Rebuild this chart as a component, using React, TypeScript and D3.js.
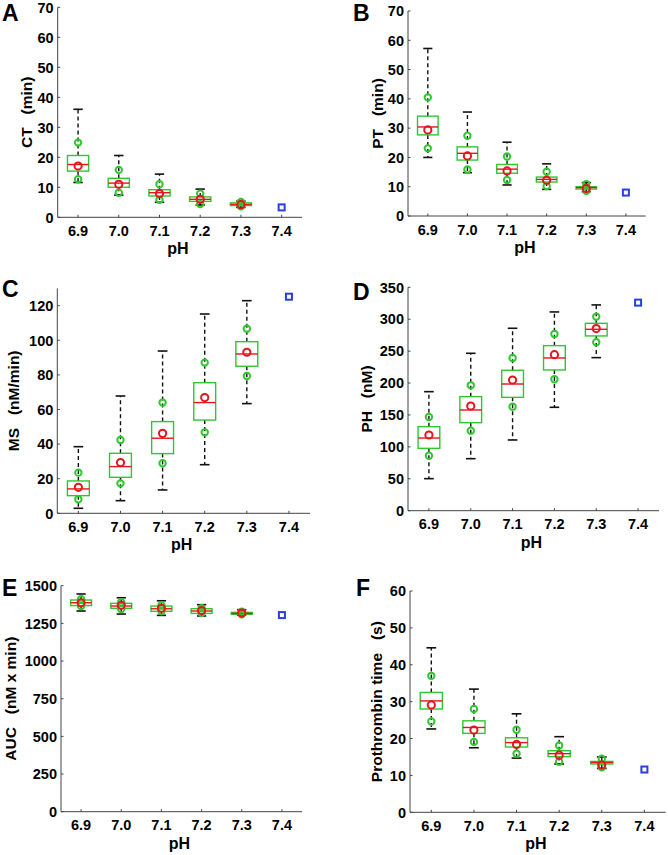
import React from "react";
import * as d3 from "d3";

const categories = ["6.9", "7.0", "7.1", "7.2", "7.3", "7.4"];

// Panel A: CT (min)
const ctWhiskerLow = [11.6, 7.4, 5.0, 4.1, 3.3];
const ctQ1 = [15.4, 10.0, 7.1, 5.3, 3.9];
const ctMedian = [17.6, 11.4, 8.2, 6.0, 4.3];
const ctQ3 = [20.6, 13.0, 9.2, 6.8, 4.8];
const ctWhiskerHigh = [36.0, 20.6, 14.4, 9.4, 5.4];
const ctMean = [17.1, 11.0, 7.9, 6.0, 4.2];
const ctLowPt = [12.7, 8.2, 5.8, 4.4, 3.7];
const ctHighPt = [24.9, 15.8, 11.0, 7.9, 5.1];
const ctRef = 3.3;

// Panel B: PT (min)
const ptWhiskerLow = [20.0, 14.8, 10.6, 9.1, 8.3];
const ptQ1 = [27.7, 19.1, 14.6, 11.6, 9.2];
const ptMedian = [30.4, 21.4, 16.0, 12.5, 9.7];
const ptQ3 = [34.1, 23.6, 17.6, 13.3, 10.0];
const ptWhiskerHigh = [57.2, 35.5, 25.2, 17.8, 11.4];
const ptMean = [29.4, 20.5, 15.4, 12.2, 9.4];
const ptLowPt = [23.1, 15.9, 12.3, 10.2, 8.6];
const ptHighPt = [40.5, 27.4, 20.3, 15.1, 10.9];
const ptRef = 8.0;

// Panel C: MS (nM/min)
const msWhiskerLow = [2.9, 7.3, 13.5, 28.1, 63.4];
const msQ1 = [10.2, 20.8, 34.5, 53.9, 85.0];
const msMedian = [14.1, 27.0, 43.4, 64.0, 92.1];
const msQ3 = [18.7, 34.7, 53.0, 75.5, 99.2];
const msWhiskerHigh = [38.5, 67.8, 93.8, 115.2, 122.9];
const msMean = [15.0, 29.3, 46.2, 66.9, 93.1];
const msLowPt = [8.1, 17.3, 28.9, 46.8, 79.4];
const msHighPt = [23.5, 42.4, 64.0, 87.1, 106.7];
const msRef = 125.2;

// Panel D: PH (nM)
const phWhiskerLow = [50.2, 81.5, 110.8, 162.0, 239.8];
const phQ1 = [97.7, 137.9, 177.6, 220.5, 273.8];
const phMedian = [113.9, 157.8, 198.5, 239.3, 284.2];
const phQ3 = [131.7, 178.7, 220.0, 258.6, 293.6];
const phWhiskerHigh = [186.5, 246.6, 285.8, 311.4, 322.4];
const phMean = [118.6, 164.0, 204.8, 244.5, 285.3];
const phLowPt = [86.2, 125.4, 163.0, 205.9, 263.8];
const phHighPt = [146.8, 196.4, 239.3, 276.9, 304.1];
const phRef = 326;

// Panel E: AUC (nM x min)
const aucWhiskerLow = [1332, 1312, 1303, 1299, 1305];
const aucQ1 = [1368, 1350, 1330, 1316, 1310];
const aucMedian = [1387, 1365, 1347, 1332, 1316];
const aucQ3 = [1405, 1383, 1365, 1347, 1323];
const aucWhiskerHigh = [1445, 1420, 1400, 1374, 1341];
const aucMean = [1387, 1370, 1350, 1335, 1318];
const aucLowPt = [1365, 1345, 1330, 1318, 1310];
const aucHighPt = [1410, 1390, 1370, 1350, 1328];
const aucRef = 1305;

// Panel F: Prothrombin time (s)
const prWhiskerLow = [22.6, 17.5, 14.7, 13.1, 11.9];
const prQ1 = [28.0, 21.4, 17.7, 15.1, 13.1];
const prMedian = [30.2, 23.0, 18.9, 15.9, 13.5];
const prQ3 = [32.5, 24.8, 20.2, 16.7, 13.8];
const prWhiskerHigh = [44.6, 33.4, 26.7, 20.5, 15.0];
const prMean = [29.1, 22.3, 18.4, 15.5, 12.8];
const prLowPt = [24.6, 19.1, 15.9, 13.7, 12.2];
const prHighPt = [37.0, 28.0, 22.4, 18.1, 14.5];
const prRef = 11.6;

const yTicksA = [0, 10, 20, 30, 40, 50, 60, 70];
const yTicksC = [0, 20, 40, 60, 80, 100, 120];
const yTicksD = [0, 50, 100, 150, 200, 250, 300, 350];
const yTicksE = [0, 250, 500, 750, 1000, 1250, 1500];
const yTicksF = [0, 10, 20, 30, 40, 50, 60];

type Panel = {
  letter: string;
  ylabel: string;
  ymax: number;
  ticks: number[];
  rect: [number, number, number, number];
  letterPos: [number, number];
  ylabelX: number;
  wl: number[];
  q1: number[];
  med: number[];
  q3: number[];
  wh: number[];
  mean: number[];
  lo: number[];
  hi: number[];
  ref: number;
};

const panels: Panel[] = [
  { letter: "A", ylabel: "CT   (min)", ymax: 70, ticks: yTicksA, rect: [57.7, 7.3, 302, 217.3], letterPos: [2, 21], ylabelX: 26,
    wl: ctWhiskerLow, q1: ctQ1, med: ctMedian, q3: ctQ3, wh: ctWhiskerHigh, mean: ctMean, lo: ctLowPt, hi: ctHighPt, ref: ctRef },
  { letter: "B", ylabel: "PT   (min)", ymax: 70, ticks: yTicksA, rect: [408, 11, 645.7, 216], letterPos: [353, 21], ylabelX: 377,
    wl: ptWhiskerLow, q1: ptQ1, med: ptMedian, q3: ptQ3, wh: ptWhiskerHigh, mean: ptMean, lo: ptLowPt, hi: ptHighPt, ref: ptRef },
  { letter: "C", ylabel: "MS   (nM/min)", ymax: 130, ticks: yTicksC, rect: [57.3, 288.4, 310, 513.3], letterPos: [2, 297], ylabelX: 13.5,
    wl: msWhiskerLow, q1: msQ1, med: msMedian, q3: msQ3, wh: msWhiskerHigh, mean: msMean, lo: msLowPt, hi: msHighPt, ref: msRef },
  { letter: "D", ylabel: "PH   (nM)", ymax: 350, ticks: yTicksD, rect: [408, 287.3, 659, 510.7], letterPos: [353, 300], ylabelX: 366,
    wl: phWhiskerLow, q1: phQ1, med: phMedian, q3: phQ3, wh: phWhiskerHigh, mean: phMean, lo: phLowPt, hi: phHighPt, ref: phRef },
  { letter: "E", ylabel: "AUC   (nM x min)", ymax: 1500, ticks: yTicksE, rect: [61, 585.7, 302, 811.7], letterPos: [2, 596], ylabelX: 10.5,
    wl: aucWhiskerLow, q1: aucQ1, med: aucMedian, q3: aucQ3, wh: aucWhiskerHigh, mean: aucMean, lo: aucLowPt, hi: aucHighPt, ref: aucRef },
  { letter: "F", ylabel: "Prothrombin time   (s)", ymax: 60, ticks: yTicksF, rect: [410, 591, 665.7, 812.3], letterPos: [356, 596], ylabelX: 376,
    wl: prWhiskerLow, q1: prQ1, med: prMedian, q3: prQ3, wh: prWhiskerHigh, mean: prMean, lo: prLowPt, hi: prHighPt, ref: prRef },
];

const GREEN = "#2ec82e";
const RED = "#e8141c";
const BLUE = "#2a3fe0";
const AXIS = "#444";
const FONT = "'Liberation Sans', Arial, sans-serif";
const TICK_FS = 14.5;

function PanelView({ p }: { p: Panel }) {
  const [l, t, r, b] = p.rect;
  const x = d3.scaleLinear().domain([0.5, 6.5]).range([l, r]);
  const y = d3.scaleLinear().domain([0, p.ymax]).range([b, t]);
  const unit = x(2) - x(1);
  const bw = unit * 0.26;
  const cw = unit * 0.115;
  const n = p.med.length;
  return (
    <g>
      <text x={p.letterPos[0]} y={p.letterPos[1]} fontFamily={FONT} fontWeight="bold" fontSize={23}>{p.letter}</text>
      <line x1={l} x2={l} y1={t} y2={b} stroke={AXIS} strokeWidth={1} />
      <line x1={l} x2={r} y1={b} y2={b} stroke={AXIS} strokeWidth={1} />
      {p.ticks.map((v) => (
        <g key={"y" + v}>
          <line x1={l} x2={l + 2.5} y1={y(v)} y2={y(v)} stroke={AXIS} />
          <text x={l - 4} y={y(v)} dy="0.36em" textAnchor="end" fontFamily={FONT} fontWeight="bold" fontSize={TICK_FS}>{v}</text>
        </g>
      ))}
      {categories.map((c, i) => (
        <g key={"x" + c}>
          <line x1={x(i + 1)} x2={x(i + 1)} y1={b} y2={b - 2.5} stroke={AXIS} />
          <text x={x(i + 1)} y={b + 18.5} textAnchor="middle" fontFamily={FONT} fontWeight="bold" fontSize={TICK_FS}>{c}</text>
        </g>
      ))}
      <text x={(l + r) / 2 - 2} y={b + 37} textAnchor="middle" fontFamily={FONT} fontWeight="bold" fontSize={16}>pH</text>
      <text transform={`translate(${p.ylabelX},${(t + b) / 2}) rotate(-90)`} textAnchor="middle" dy="0.36em"
        fontFamily={FONT} fontWeight="bold" fontSize={15.5} style={{ whiteSpace: "pre" }}>{p.ylabel}</text>
      {d3.range(n).map((i) => {
        const cx = x(i + 1);
        return (
          <g key={"b" + i}>
            <line x1={cx} x2={cx} y1={y(p.q3[i])} y2={y(p.wh[i])} stroke="#111" strokeWidth={1.4} strokeDasharray="4,3" />
            <line x1={cx} x2={cx} y1={y(p.q1[i])} y2={y(p.wl[i])} stroke="#111" strokeWidth={1.4} strokeDasharray="4,3" />
            <line x1={cx - cw} x2={cx + cw} y1={y(p.wh[i])} y2={y(p.wh[i])} stroke="#111" strokeWidth={1.6} />
            <line x1={cx - cw} x2={cx + cw} y1={y(p.wl[i])} y2={y(p.wl[i])} stroke="#111" strokeWidth={1.6} />
            <rect x={cx - bw} y={y(p.q3[i])} width={2 * bw} height={Math.max(0.5, y(p.q1[i]) - y(p.q3[i]))}
              fill="none" stroke={GREEN} strokeWidth={1.4} />
            <line x1={cx - bw} x2={cx + bw} y1={y(p.med[i])} y2={y(p.med[i])} stroke={RED} strokeWidth={1.4} />
            <circle cx={cx} cy={y(p.hi[i])} r={3.2} fill="none" stroke={GREEN} strokeWidth={2} />
            <circle cx={cx} cy={y(p.lo[i])} r={3.2} fill="none" stroke={GREEN} strokeWidth={2} />
            <circle cx={cx} cy={y(p.mean[i])} r={3.6} fill="none" stroke={RED} strokeWidth={2} />
          </g>
        );
      })}
      <rect x={x(6) - 3} y={y(p.ref) - 3} width={6} height={6} fill="none" stroke={BLUE} strokeWidth={2} />
    </g>
  );
}

export default function App() {
  return (
    <svg width={668} height={855} style={{ position: "absolute", left: 0, top: 0, background: "#fff" }}>
      <rect width={668} height={855} fill="#fff" />
      {panels.map((p) => (
        <PanelView key={p.letter} p={p} />
      ))}
    </svg>
  );
}
